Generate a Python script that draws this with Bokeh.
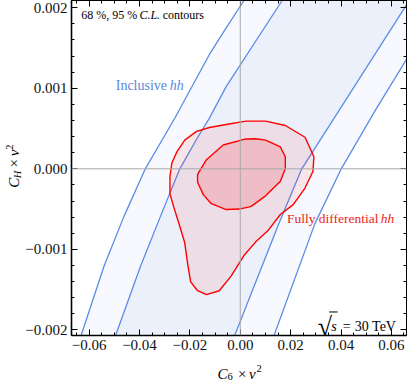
from math import pi
from bokeh.plotting import figure
from bokeh.layouts import row, column
from bokeh.models import Range1d, FixedTicker, LinearAxis, Span, Label
from bokeh.embed import file_html
from bokeh.resources import INLINE

# ---------------- data ----------------
x_major = [-0.06, -0.04, -0.02, 0.0, 0.02, 0.04, 0.06]
x_tick_labels = ["−0.06", "−0.04", "−0.02", "0.00", "0.02", "0.04", "0.06"]
y_major = [-0.002, -0.001, 0.0, 0.001, 0.002]
y_tick_labels = ["−0.002", "−0.001", "0.000", "0.001", "0.002"]
x_minor = [round(k * 0.005, 3) for k in range(-13, 14)]
y_minor = [round(k * 0.0002, 4) for k in range(-10, 11)]

# Inclusive hh: 95% band edges (bottom -> top)
incl95_left_x = [-0.0690, -0.0631, -0.0541, -0.0463, -0.0377, -0.0259, -0.01225, -0.0056, 0.00145, 0.0089]
incl95_left_y = [-0.00252, -0.00206, -0.00121, -0.00060, 0.0, 0.000634, 0.00142, 0.00175, 0.00209, 0.00246]
incl95_right_x = [0.0079, 0.0133, 0.0296, 0.0401, 0.0535, 0.0668, 0.0883]
incl95_right_y = [-0.00252, -0.00208, -0.000684, 0.0, 0.00072, 0.00140, 0.00246]
# Inclusive hh: 68% band edges (bottom -> top)
incl68_left_x = [-0.0548, -0.0494, -0.0396, -0.0318, -0.0240, -0.0173, -0.01225, -0.0056, 0.01663, 0.0243]
incl68_left_y = [-0.00252, -0.00206, -0.00121, -0.00060, 0.0, 0.00037, 0.00063, 0.00102, 0.00209, 0.00246]
incl68_right_x = [-0.0079, -0.00235, 0.01526, 0.02442, 0.0440, 0.0655, 0.0742]
incl68_right_y = [-0.00252, -0.00208, -0.000684, 0.0, 0.000959, 0.00201, 0.00246]

# Fully differential hh: 95% contour
diff95_x = [0.00223, -0.00560, -0.01225, -0.01734, -0.02204, -0.02517, -0.02712, -0.02791, -0.02791,
            -0.02634, -0.02438, -0.02204, -0.02086, -0.01969, -0.01695, -0.01342, -0.00834, -0.00364,
            0.00145, 0.00614, 0.01084, 0.01593, 0.02102, 0.02571, 0.02884, 0.02924, 0.02571, 0.01789, 0.01006]
diff95_y = [0.000592, 0.000550, 0.000513, 0.000465, 0.000356, 0.000210, 0.000076, -0.000093, -0.000312,
            -0.000482, -0.000676, -0.000919, -0.001186, -0.001404, -0.001514, -0.001562, -0.001514, -0.001332,
            -0.001077, -0.000907, -0.000773, -0.000567, -0.000445, -0.000239, -0.000033, 0.000149, 0.000392,
            0.000538, 0.000592]
# Fully differential hh: 68% contour
diff68_x = [0.00223, -0.00677, -0.01342, -0.01695, -0.01695, -0.01460, -0.01147, -0.00560, -0.00051,
            0.00419, 0.01006, 0.01593, 0.01789, 0.01789, 0.01593, 0.01006, 0.00614]
diff68_y = [0.000371, 0.000295, 0.000113, -0.000069, -0.000166, -0.000324, -0.000433, -0.000506, -0.000500,
            -0.000470, -0.000336, -0.000154, 0.000004, 0.000149, 0.000271, 0.000356, 0.000374]

# ---------------- layout ----------------
X0, X1 = -0.067, 0.066
Y0, Y1 = -0.00207, 0.00209
W, H = 410, 381
YLAB_W = 22
MAIN_H = 356
FONT = "Liberation Serif"


def rx(px):
    # reference-picture pixel -> data x
    return (px - 244.3) / 2555.0


def ry(py):
    # reference-picture pixel -> data y
    return (172.3 - py) / 82400.0


p = figure(width=W - YLAB_W, height=MAIN_H, x_range=Range1d(X0, X1), y_range=Range1d(Y0, Y1),
           output_backend="svg", toolbar_location=None,
           min_border_left=48, min_border_right=4, min_border_top=0, min_border_bottom=21)
p.xgrid.visible = False
p.ygrid.visible = False
p.outline_line_color = "black"
p.outline_line_width = 1
p.background_fill_color = "white"
p.border_fill_color = "white"

xt = FixedTicker(ticks=x_major, minor_ticks=x_minor)
yt = FixedTicker(ticks=y_major, minor_ticks=y_minor)


def style_axis(ax, labeled):
    ax.major_tick_in = 6
    ax.major_tick_out = 0
    ax.minor_tick_in = 3
    ax.minor_tick_out = 0
    ax.major_tick_line_color = "black"
    ax.minor_tick_line_color = "black"
    ax.axis_line_color = "black"
    ax.axis_label = None
    if not labeled:
        ax.major_label_text_font_size = "0px"
        ax.major_label_text_color = None
        ax.major_label_standoff = 0
        ax.axis_line_width = 1
    else:
        ax.major_label_text_font = FONT
        ax.major_label_text_font_size = "15px"
        ax.major_label_text_color = "#111111"
        ax.major_label_standoff = 4
        ax.axis_line_width = 1.6


p.xaxis[0].ticker = xt
p.yaxis[0].ticker = yt
p.xaxis[0].major_label_overrides = dict(zip(x_major, x_tick_labels))
p.yaxis[0].major_label_overrides = dict(zip(y_major, y_tick_labels))
style_axis(p.xaxis[0], True)
style_axis(p.yaxis[0], True)

top_ax = LinearAxis(ticker=xt)
right_ax = LinearAxis(ticker=yt)
style_axis(top_ax, False)
style_axis(right_ax, False)
p.add_layout(top_ax, "above")
p.add_layout(right_ax, "right")

# ---------------- bands ----------------
band95_x = incl95_left_x + incl95_right_x[::-1]
band95_y = incl95_left_y + incl95_right_y[::-1]
band68_x = incl68_left_x + incl68_right_x[::-1]
band68_y = incl68_left_y + incl68_right_y[::-1]
p.patch(band95_x, band95_y, fill_color="#f7f9fe", line_color=None)
p.patch(band68_x, band68_y, fill_color="#ebf0fb", line_color=None)

BLUE = "#5b8ce6"
for xs, ys in [(incl95_left_x, incl95_left_y), (incl95_right_x, incl95_right_y),
               (incl68_left_x, incl68_left_y), (incl68_right_x, incl68_right_y)]:
    p.line(xs, ys, line_color=BLUE, line_width=1.3, line_join="round")

# ---------------- differential contours ----------------
p.patch(diff95_x, diff95_y, fill_color="#ff0000", fill_alpha=0.08,
        line_color="#ff0000", line_width=1.4, line_join="round")
p.patch(diff68_x, diff68_y, fill_color="#ff0000", fill_alpha=0.14,
        line_color="#ff0000", line_width=1.4, line_join="round")

# origin lines
p.add_layout(Span(location=0, dimension="height", line_color="#a8a8a8", line_width=1))
p.add_layout(Span(location=0, dimension="width", line_color="#a8a8a8", line_width=1))


# ---------------- texts ----------------
def lab(fig, x, y, text, size="14px", color="black", style="normal", baseline="middle",
        angle=0.0, align="left"):
    fig.add_layout(Label(x=x, y=y, text=text, text_font=FONT, text_font_size=size,
                         text_color=color, text_font_style=style, text_baseline=baseline,
                         text_align=align, angle=angle))


lab(p, rx(83), ry(15), "68 %, 95 %", size="12px")
lab(p, rx(142), ry(15), "C.L.", size="12px", style="italic")
lab(p, rx(165.6), ry(15), "contours", size="12px")

lab(p, rx(118), ry(87), "Inclusive", color="#5a88df")
lab(p, rx(172.8), ry(87), "hh", color="#5a88df", style="italic")

lab(p, rx(291.7), ry(223), "Fully differential", size="13.5px", color="#ee1c1c")
lab(p, rx(386.9), ry(223), "hh", size="13.5px", color="#ee1c1c", style="italic")

lab(p, rx(323), ry(334), "√", size="26px", baseline="alphabetic")
lab(p, rx(336.5), ry(334), "s", size="14px", style="italic", baseline="alphabetic")
lab(p, rx(348.3), ry(334), "=", size="14px", baseline="alphabetic")
lab(p, rx(360.5), ry(334), "30 TeV", size="14px", baseline="alphabetic")
p.segment(x0=[rx(334.5)], y0=[ry(318.8)], x1=[rx(343)], y1=[ry(318.8)],
          line_color="black", line_width=1)

# ---- y axis title panel: C_H x v^2 (rotated) ----
ylab = figure(width=YLAB_W, height=MAIN_H, x_range=Range1d(0, YLAB_W), y_range=Range1d(MAIN_H, 0),
              output_backend="svg", toolbar_location=None, min_border=0,
              x_axis_location=None, y_axis_location=None)
ylab.xgrid.visible = False
ylab.ygrid.visible = False
ylab.outline_line_color = None
ylab.background_fill_color = "white"
ylab.border_fill_color = "white"
lab(ylab, 13.5, 199, "C", size="15px", style="italic", baseline="alphabetic", angle=pi / 2)
lab(ylab, 16.5, 189, "H", size="10.5px", style="italic", baseline="alphabetic", angle=pi / 2)
lab(ylab, 13.5, 177.6, "×", size="15px", baseline="alphabetic", angle=pi / 2)
lab(ylab, 13.5, 165.4, "v", size="15px", style="italic", baseline="alphabetic", angle=pi / 2)
lab(ylab, 8.5, 158.7, "2", size="10.5px", baseline="alphabetic", angle=pi / 2)

# ---- x axis title panel: C_6 x v^2 ----
XLAB_H = H - MAIN_H
xlab = figure(width=W, height=XLAB_H, x_range=Range1d(0, W), y_range=Range1d(XLAB_H, 0),
              output_backend="svg", toolbar_location=None, min_border=0,
              x_axis_location=None, y_axis_location=None)
xlab.xgrid.visible = False
xlab.ygrid.visible = False
xlab.outline_line_color = None
xlab.background_fill_color = "white"
xlab.border_fill_color = "white"
lab(xlab, 217, 17, "C", size="15px", style="italic", baseline="alphabetic")
lab(xlab, 227, 20, "6", size="10.5px", baseline="alphabetic")
lab(xlab, 237.5, 17, "×", size="15px", baseline="alphabetic")
lab(xlab, 248.5, 17, "v", size="15px", style="italic", baseline="alphabetic")
lab(xlab, 256, 11.5, "2", size="10.5px", baseline="alphabetic")

layout = column(row(ylab, p, spacing=0), xlab, spacing=0)
open("out.html", "w").write(file_html(layout, INLINE))
